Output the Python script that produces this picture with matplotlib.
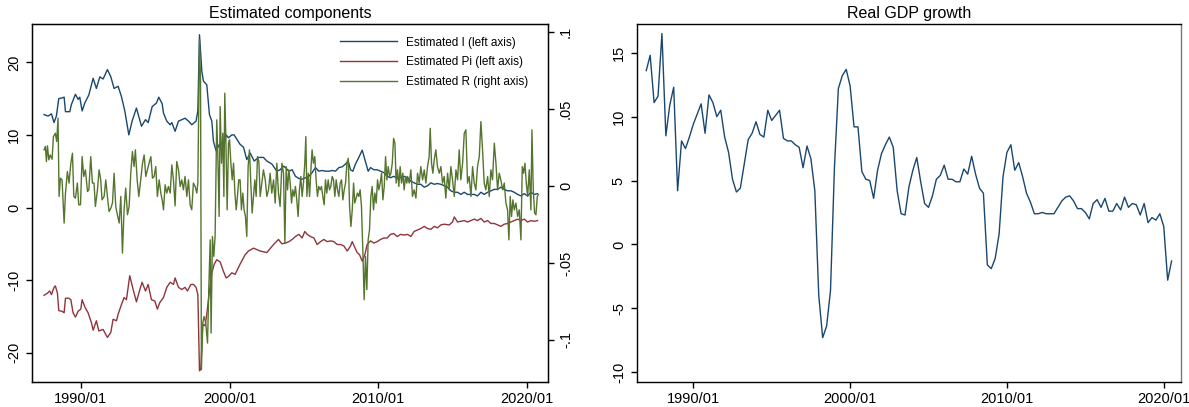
import numpy as np
import pandas as pd
import matplotlib
matplotlib.use("Agg")
import matplotlib.pyplot as plt

# Values (dates as decimal years)
I_DATES = [1987.53, 1987.80, 1988.03, 1988.20, 1988.36, 1988.52, 1988.74, 1988.88, 1988.97, 1989.26,
           1989.37, 1989.64, 1989.82, 1989.93, 1990.09, 1990.27, 1990.54, 1990.83, 1991.05, 1991.28,
           1991.50, 1991.79, 1992.02, 1992.24, 1992.51, 1992.73, 1992.96, 1993.23, 1993.45, 1993.74,
           1994.08, 1994.35, 1994.53, 1994.80, 1995.09, 1995.24, 1995.47,
           1995.56, 1995.78, 1996.01, 1996.12, 1996.34, 1996.57, 1996.79, 1997.01, 1997.24, 1997.46,
           1997.75, 1997.87, 1997.98, 1998.14, 1998.25, 1998.47, 1998.65, 1998.81, 1998.92, 1999.10,
           1999.32, 1999.55, 1999.77, 1999.93, 2000.15, 2000.31, 2000.49, 2000.71, 2000.94, 2001.16,
           2001.39, 2001.66, 2001.95, 2002.28, 2002.51, 2002.84, 2003.18, 2003.40, 2003.63,
           2003.76, 2003.99, 2004.21, 2004.43, 2004.66, 2004.88, 2005.11, 2005.33, 2005.55, 2005.78,
           2006.00, 2006.23, 2006.45, 2006.68, 2006.90, 2007.12, 2007.35, 2007.57, 2007.80, 2007.98,
           2008.13, 2008.29, 2008.47, 2008.69, 2008.92, 2009.10, 2009.32, 2009.48, 2009.70, 2009.93,
           2010.15, 2010.38, 2010.60, 2010.82, 2011.05, 2011.27, 2011.50, 2011.72,
           2011.97, 2012.19, 2012.41, 2012.64, 2012.86, 2013.09, 2013.31, 2013.54, 2013.76, 2013.98,
           2014.21, 2014.43, 2014.66, 2014.88, 2015.11, 2015.33, 2015.55, 2015.78, 2016.00, 2016.23,
           2016.45, 2016.67, 2016.90, 2017.12, 2017.35, 2017.57, 2017.80, 2018.02, 2018.24, 2018.47,
           2018.69, 2018.92, 2019.14, 2019.37, 2019.59, 2019.81, 2020.04, 2020.26, 2020.49, 2020.71]
I_VALS = [12.8, 12.6, 12.9, 11.7, 12.6, 15.0, 15.1, 15.2, 13.2, 13.2,
          14.2, 15.6, 14.9, 15.2, 13.3, 14.4, 15.5, 17.8, 16.4, 18.0,
          17.7, 19.0, 18.0, 16.4, 16.7, 15.3, 13.3, 10.0, 11.9, 13.7,
          11.2, 12.1, 11.7, 13.9, 14.4, 15.2, 14.3,
          13.0, 11.9, 11.4, 11.7, 10.5, 11.9, 12.1, 12.3, 11.9, 11.4,
          11.9, 13.3, 23.8, 18.7, 17.4, 16.9, 12.8, 11.9, 9.1, 7.8,
          8.7, 7.8, 10.0, 9.6, 10.0, 10.0, 9.4, 8.7, 8.3, 6.6,
          7.5, 6.4, 6.9, 6.9, 6.4, 6.0, 5.0, 5.2, 5.7,
          5.5, 5.0, 5.2, 4.3, 4.0, 3.9, 4.1, 4.3, 4.8, 5.5,
          5.0, 5.1, 5.0, 5.0, 5.1, 5.0, 5.5, 5.6, 6.0, 6.4,
          5.2, 5.0, 6.0, 6.9, 7.9, 6.6, 5.0, 5.5, 5.2, 5.2,
          5.0, 4.8, 4.3, 4.1, 4.3, 4.0, 4.1, 4.3,
          4.1, 3.6, 3.4, 3.2, 3.2, 2.8, 3.0, 3.4, 3.2, 3.3,
          3.2, 3.0, 2.8, 2.3, 2.1, 2.1, 1.8, 2.1, 1.8, 1.8,
          1.8, 1.6, 2.1, 1.8, 2.1, 2.3, 2.5, 2.5, 2.8, 2.5,
          2.3, 2.3, 2.1, 1.8, 1.6, 1.9, 1.6, 2.1, 1.8, 1.9]

PI_DATES = [1987.53, 1987.76, 1987.91, 1988.03, 1988.20, 1988.29, 1988.43, 1988.52, 1988.74, 1988.88,
            1988.97, 1989.19, 1989.33, 1989.48, 1989.64, 1989.82, 1990.00, 1990.09, 1990.27, 1990.49,
            1990.72, 1990.83, 1991.05, 1991.21, 1991.50, 1991.79, 1992.02, 1992.17, 1992.40, 1992.51,
            1992.73, 1992.91, 1993.07, 1993.29, 1993.52, 1993.74, 1993.97, 1994.12, 1994.35, 1994.53,
            1994.75, 1994.98, 1995.15, 1995.31,
            1995.56, 1995.78, 1996.01, 1996.23, 1996.34, 1996.57, 1996.79, 1997.01, 1997.17, 1997.40,
            1997.58, 1997.75, 1997.87, 1997.98, 1998.07, 1998.20, 1998.36, 1998.47, 1998.65, 1998.81,
            1998.97, 1999.14, 1999.37, 1999.59, 1999.77, 1999.93, 2000.15, 2000.38, 2000.71, 2001.05,
            2001.27, 2001.61, 2002.06, 2002.51, 2002.96, 2003.29, 2003.52,
            2003.76, 2003.99, 2004.21, 2004.43, 2004.66, 2004.88, 2005.06, 2005.22, 2005.44, 2005.67,
            2005.89, 2006.12, 2006.34, 2006.56, 2006.79, 2007.01, 2007.24, 2007.46, 2007.69, 2007.91,
            2008.13, 2008.25, 2008.42, 2008.58, 2008.74, 2008.92, 2009.10, 2009.25, 2009.48, 2009.70,
            2009.93, 2010.15, 2010.38, 2010.60, 2010.82, 2011.05, 2011.27, 2011.50, 2011.72,
            2011.97, 2012.19, 2012.41, 2012.64, 2012.86, 2013.09, 2013.31, 2013.54, 2013.76, 2013.98,
            2014.21, 2014.43, 2014.77, 2014.99, 2015.11, 2015.33, 2015.55, 2015.78, 2016.00, 2016.23,
            2016.45, 2016.67, 2016.90, 2017.12, 2017.35, 2017.57, 2017.80, 2018.02, 2018.24, 2018.47,
            2018.69, 2018.92, 2019.14, 2019.37, 2019.59, 2019.81, 2020.04, 2020.26, 2020.49, 2020.71]
PI_VALS = [-12.1, -11.8, -11.5, -12.0, -11.0, -10.8, -11.8, -14.2, -14.3, -14.5,
           -12.5, -12.5, -12.7, -14.5, -15.1, -14.3, -14.0, -12.7, -13.7, -14.5,
           -15.9, -16.9, -15.6, -17.0, -16.8, -17.9, -17.2, -15.4, -15.6, -14.7,
           -13.4, -12.4, -12.7, -9.4, -11.3, -13.0, -11.3, -10.3, -11.5, -10.6,
           -12.7, -12.9, -14.0, -13.1,
           -12.4, -11.0, -10.3, -10.6, -9.7, -11.0, -11.3, -11.0, -11.5, -10.6,
           -10.6, -11.0, -12.0, -22.5, -22.3, -16.1, -16.3, -14.7, -11.5, -9.0,
           -7.8, -7.2, -7.5, -8.8, -9.7, -9.5, -9.0, -9.2, -7.8, -6.5,
           -6.0, -5.6, -6.0, -6.2, -5.1, -4.4, -5.0,
           -4.9, -4.7, -4.4, -4.0, -3.7, -4.2, -3.3, -3.7, -4.0, -4.2,
           -5.1, -4.7, -4.4, -4.7, -4.6, -4.7, -5.1, -5.1, -5.3, -6.0,
           -5.3, -4.7, -5.5, -6.2, -6.5, -7.4, -6.5, -5.1, -4.6, -4.9,
           -4.7, -4.4, -4.2, -4.2, -3.7, -3.6, -4.0, -3.7, -3.8,
           -3.7, -4.0, -3.3, -3.1, -2.9, -2.6, -2.9, -3.0, -2.6, -2.8,
           -2.4, -2.3, -2.4, -2.0, -1.3, -2.0, -1.9, -1.8, -2.0, -1.8,
           -1.6, -1.8, -1.5, -2.0, -1.8, -2.2, -2.2, -2.4, -2.6, -2.3,
           -2.2, -2.0, -1.8, -1.6, -1.8, -1.6, -2.0, -1.8, -1.9, -1.8]

R_DATES = [1987.53, 1987.62, 1987.69, 1987.76, 1987.85, 1987.94, 1988.07, 1988.16, 1988.29, 1988.38,
           1988.47, 1988.54, 1988.63, 1988.74, 1988.88, 1988.97, 1989.10, 1989.21, 1989.33, 1989.44,
           1989.53, 1989.64, 1989.77, 1989.86, 1989.98, 1990.09, 1990.20, 1990.31, 1990.45, 1990.54,
           1990.67, 1990.78, 1990.89, 1990.98, 1991.12, 1991.23, 1991.34, 1991.43, 1991.57, 1991.68,
           1991.79, 1991.90, 1992.02, 1992.13, 1992.24, 1992.35, 1992.46, 1992.58, 1992.69, 1992.80,
           1992.91, 1993.02, 1993.14, 1993.25, 1993.36, 1993.47, 1993.58, 1993.67, 1993.79, 1993.90,
           1994.03, 1994.15, 1994.26, 1994.37, 1994.48, 1994.59, 1994.71, 1994.82, 1994.93, 1995.04,
           1995.15, 1995.27, 1995.38, 1995.49,
           1995.56, 1995.67, 1995.78, 1995.89, 1996.01, 1996.12, 1996.23, 1996.34, 1996.45, 1996.57,
           1996.68, 1996.79, 1996.90, 1997.01, 1997.13, 1997.24, 1997.35, 1997.46, 1997.57, 1997.69,
           1997.80, 1997.87, 1997.98, 1998.05, 1998.11, 1998.20, 1998.29, 1998.40, 1998.52, 1998.61,
           1998.70, 1998.76, 1998.85, 1998.94, 1999.03, 1999.14, 1999.21, 1999.30, 1999.37, 1999.46,
           1999.55, 1999.62, 1999.68, 1999.75, 1999.84, 1999.93, 2000.00, 2000.09, 2000.18, 2000.27,
           2000.36, 2000.45, 2000.53, 2000.62, 2000.71, 2000.80, 2000.89, 2000.98, 2001.07, 2001.16,
           2001.25, 2001.34, 2001.43, 2001.52, 2001.61, 2001.70, 2001.79, 2001.88, 2001.97, 2002.06,
           2002.17, 2002.28, 2002.40, 2002.51, 2002.62, 2002.73, 2002.84, 2002.96, 2003.07, 2003.18,
           2003.29, 2003.40, 2003.52, 2003.63,
           2003.72, 2003.81, 2003.90, 2003.99, 2004.08, 2004.17, 2004.25, 2004.34, 2004.43, 2004.52,
           2004.61, 2004.70, 2004.79, 2004.88, 2004.97, 2005.06, 2005.13, 2005.20, 2005.29, 2005.38,
           2005.47, 2005.55, 2005.64, 2005.73, 2005.82, 2005.91, 2006.00, 2006.09, 2006.18, 2006.27,
           2006.36, 2006.45, 2006.54, 2006.63, 2006.72, 2006.81, 2006.90, 2006.99, 2007.08, 2007.17,
           2007.26, 2007.35, 2007.44, 2007.53, 2007.62, 2007.71, 2007.80, 2007.89, 2007.98, 2008.07,
           2008.16, 2008.25, 2008.34, 2008.42, 2008.51, 2008.60, 2008.69, 2008.78, 2008.87, 2008.96,
           2009.05, 2009.14, 2009.23, 2009.32, 2009.41, 2009.50, 2009.59, 2009.68, 2009.77, 2009.86,
           2009.95, 2010.04, 2010.13, 2010.22, 2010.31, 2010.40, 2010.49, 2010.58, 2010.67, 2010.76,
           2010.85, 2010.94, 2011.03, 2011.12, 2011.20, 2011.29, 2011.38, 2011.47, 2011.56, 2011.65,
           2011.74, 2011.83, 2011.92,
           2011.97, 2012.08, 2012.19, 2012.30, 2012.41, 2012.53, 2012.64, 2012.75, 2012.86, 2012.98,
           2013.09, 2013.20, 2013.31, 2013.42, 2013.49, 2013.58, 2013.67, 2013.76, 2013.87, 2013.98,
           2014.10, 2014.21, 2014.32, 2014.43, 2014.54, 2014.66, 2014.77, 2014.88, 2014.99, 2015.11,
           2015.22, 2015.33, 2015.44, 2015.55, 2015.67, 2015.78, 2015.89, 2016.00, 2016.11, 2016.23,
           2016.34, 2016.45, 2016.56, 2016.67, 2016.79, 2016.90, 2017.01, 2017.12, 2017.23, 2017.35,
           2017.46, 2017.57, 2017.68, 2017.80, 2017.91, 2018.02, 2018.13, 2018.24, 2018.36, 2018.47,
           2018.58, 2018.69, 2018.78, 2018.87, 2018.96, 2019.05, 2019.14, 2019.25, 2019.37, 2019.48,
           2019.59, 2019.68, 2019.77, 2019.86, 2019.95, 2020.04, 2020.15, 2020.26, 2020.33, 2020.42,
           2020.51, 2020.60, 2020.69, 2020.76]
R_VALS = [0.0236, 0.0258, 0.0160, 0.0262, 0.0171, 0.0203, 0.0175, 0.0322, 0.0344, 0.0290,
          0.0442, -0.0067, 0.0052, 0.0041, -0.0240, -0.0045, 0.0095, 0.0020, 0.0149, 0.0214,
          -0.0067, -0.0078, 0.0020, -0.0121, -0.0121, 0.0192, 0.0063, 0.0106, -0.0035, -0.0024,
          0.0192, 0.0020, 0.0020, -0.0132, -0.0024, 0.0106, 0.0041, -0.0089, -0.0067, 0.0041,
          -0.0067, -0.0165, -0.0143, -0.0110, 0.0084, -0.0132, -0.0186, -0.0240, -0.0067, -0.0435,
          -0.0154, -0.0013, -0.0186, -0.0132, 0.0084, 0.0225, 0.0127, 0.0236, 0.0041, -0.0067,
          0.0041, 0.0149, 0.0203, 0.0063, 0.0106, 0.0149, 0.0192, 0.0052, 0.0063, 0.0127,
          -0.0067, 0.0041, -0.0045, -0.0100,
          -0.0154, 0.0009, -0.0045, -0.0002, -0.0045, 0.0138, 0.0041, -0.0128, 0.0160, 0.0106,
          -0.0002, 0.0041, -0.0024, 0.0063, -0.0067, 0.0041, -0.0121, -0.0154, 0.0020, -0.0002,
          -0.0045, 0.0020, 0.0950, 0.0691, -0.1193, -0.0890, -0.0847, -0.0890, -0.1020, -0.0652,
          -0.0349, -0.0955, -0.0327, -0.0457, -0.0327, 0.0431, 0.0214, -0.0197, 0.0517, 0.0149,
          0.0344, -0.0067, 0.0604, 0.0322, -0.0154, 0.0279, 0.0301, 0.0149, 0.0041, 0.0149,
          -0.0045, -0.0154, -0.0067, 0.0041, 0.0041, -0.0154, -0.0045, -0.0154, -0.0197, -0.0327,
          0.0127, 0.0236, 0.0020, -0.0175, -0.0067, 0.0041, -0.0067, 0.0192, 0.0160, -0.0067,
          0.0020, 0.0106, 0.0041, -0.0067, -0.0024, 0.0084, -0.0045, 0.0041, -0.0110, 0.0149,
          -0.0045, -0.0132, 0.0149, 0.0084,
          -0.0370, 0.0127, -0.0024, 0.0106, 0.0020, -0.0110, -0.0024, -0.0067, -0.0002, -0.0089,
          -0.0197, -0.0024, 0.0063, -0.0067, 0.0020, 0.0149, 0.0322, -0.0067, 0.0084, -0.0067,
          0.0106, 0.0236, 0.0149, 0.0192, 0.0041, -0.0067, -0.0002, -0.0024, -0.0002, -0.0067,
          -0.0121, 0.0041, -0.0045, 0.0041, -0.0024, -0.0002, 0.0063, 0.0041, -0.0067, 0.0041,
          -0.0024, -0.0067, 0.0020, 0.0041, -0.0089, -0.0024, 0.0020, 0.0149, 0.0181, -0.0132,
          -0.0262, -0.0154, 0.0020, -0.0110, -0.0078, -0.0045, -0.0067, -0.0024, -0.0132, -0.0413,
          -0.0738, -0.0457, -0.0673, -0.0349, -0.0284, -0.0067, -0.0002, -0.0154, -0.0045, -0.0110,
          0.0041, -0.0024, 0.0020, 0.0084, -0.0089, -0.0002, 0.0192, 0.0041, 0.0127, 0.0063,
          0.0084, 0.0149, 0.0311, 0.0279, 0.0020, 0.0106, -0.0002, 0.0127, 0.0020, 0.0084,
          -0.0024, 0.0063, 0.0020,
          0.0063, 0.0020, 0.0106, -0.0067, -0.0024, -0.0078, 0.0084, 0.0020, 0.0127, 0.0041,
          0.0106, 0.0020, 0.0127, 0.0192, 0.0376, 0.0149, 0.0084, 0.0171, 0.0236, 0.0127,
          0.0084, 0.0127, 0.0020, 0.0063, -0.0078, 0.0084, -0.0024, 0.0127, 0.0041, -0.0067,
          0.0106, 0.0041, 0.0236, 0.0041, 0.0149, 0.0344, 0.0366, 0.0020, 0.0063, -0.0067,
          0.0127, 0.0020, -0.0024, 0.0127, 0.0192, 0.0420, 0.0236, 0.0020, -0.0024, 0.0063,
          -0.0067, 0.0106, 0.0041, 0.0279, 0.0149, -0.0024, 0.0084, 0.0041, -0.0024, 0.0020,
          -0.0110, -0.0154, -0.0349, -0.0067, -0.0197, -0.0089, -0.0154, -0.0110, -0.0197, -0.0154,
          -0.0349, 0.0127, 0.0084, 0.0149, 0.0020, -0.0067, 0.0106, -0.0154, 0.0366, -0.0024,
          -0.0175, -0.0186, -0.0067, -0.0056]

# Real GDP growth, quarterly from 1987Q1
GDP_START = "1987Q1"
GDP_VALS = [13.6, 14.8, 11.1, 11.6, 16.5, 8.5, 10.9, 12.3, 4.2, 8.1,
            7.5, 8.4, 9.4, 10.2, 11.0, 8.7, 11.7, 11.1, 10.0, 10.5,
            8.4, 7.2, 5.1, 4.1, 4.4, 6.3, 8.2, 8.7, 9.6, 8.6,
            8.4, 10.5, 9.7, 10.1, 10.5, 8.3, 8.1, 8.1, 7.8, 7.6,
            6.0, 7.7, 6.7, 4.2, -4.0, -7.3, -6.4, -3.6, 6.0, 12.2,
            13.2, 13.7, 12.4, 9.2, 9.2, 5.7, 5.1, 5.0, 3.6, 5.8,
            7.1, 7.8, 8.4, 7.6, 4.2, 2.4, 2.3, 4.5, 5.8, 6.8,
            4.9, 3.2, 2.9, 3.8, 5.1, 5.4, 6.2, 5.1, 5.1, 4.9,
            4.9, 5.9, 5.5, 6.9, 5.5, 4.4, 4.0, -1.6, -1.9, -1.1,
            0.8, 5.3, 7.2, 7.8, 5.8, 6.4, 5.3, 4.0, 3.3, 2.4,
            2.4, 2.5, 2.4, 2.4, 2.4, 2.9, 3.4, 3.7, 3.8, 3.4,
            2.8, 2.8, 2.5, 2.0, 3.2, 3.5, 2.9, 3.6, 2.6, 2.6,
            3.2, 2.7, 3.7, 2.9, 3.2, 3.1, 2.3, 3.2, 1.7, 2.1,
            1.9, 2.4, 1.4, -2.8, -1.3]

X_TICKS = [1990, 2000, 2010, 2020]
X_LABELS = ["1990/01", "2000/01", "2010/01", "2020/01"]

BLUE = "#1a476f"
RED = "#90353b"
GREEN = "#55752f"

plt.rcParams["font.family"] = ["Liberation Sans", "DejaVu Sans"]

fig = plt.figure(figsize=(11.89, 4.07), dpi=100)
ax1 = fig.add_axes([32 / 1189, 25 / 407, 516 / 1189, 358 / 407])
ax2 = fig.add_axes([637 / 1189, 25 / 407, 544 / 1189, 358 / 407])


def style_axis(ax):
    ax.tick_params(direction="out", length=4, width=1, labelsize=10.5, pad=3)
    ax.tick_params(axis="y", pad=4)
    for s in ax.spines.values():
        s.set_linewidth(1)
    ax.set_xticks(X_TICKS)
    ax.set_xticklabels(X_LABELS)


# ---- Left panel: estimated components ----
ax1.plot(I_DATES, I_VALS, color=BLUE, lw=1.0, label="Estimated I (left axis)")
ax1.plot(PI_DATES, PI_VALS, color=RED, lw=1.0, label="Estimated Pi (left axis)")
ax1.set_xlim(1986.72, 2021.41)
ax1.set_ylim(-24.04, 25.28)
ax1.set_yticks([-20, -10, 0, 10, 20])
ax1.set_yticklabels(["-20", "-10", "0", "10", "20"], rotation=90, va="center")
style_axis(ax1)
ax1.set_title("Estimated components", fontsize=11.5, pad=4)

axr = ax1.twinx()
axr.plot(R_DATES, R_VALS, color=GREEN, lw=1.0, label="Estimated R (right axis)")
axr.set_ylim(-0.1273, 0.1054)
axr.set_yticks([-0.1, -0.05, 0, 0.05, 0.1])
axr.set_yticklabels(["-.1", "-.05", "0", ".05", ".1"], rotation=90, va="center")
axr.tick_params(direction="out", length=4, width=1, labelsize=10.5, pad=4)

handles = ax1.get_lines() + axr.get_lines()
axr.legend(handles, [h.get_label() for h in handles], loc="upper right",
           bbox_to_anchor=(0.962, 0.965), frameon=False, fontsize=8.5,
           handlelength=4.8, handletextpad=0.8, labelspacing=0.65,
           borderpad=0, borderaxespad=0)

# ---- Right panel: real GDP growth ----
gdp_q = pd.period_range(GDP_START, periods=len(GDP_VALS), freq="Q")
gdp_x = gdp_q.year + (gdp_q.quarter - 1) / 4.0
ax2.plot(gdp_x, GDP_VALS, color=BLUE, lw=1.0)
ax2.set_xlim(1986.41, 2021.1)
ax2.set_ylim(-10.77, 17.25)
ax2.set_yticks([-10, -5, 0, 5, 10, 15])
ax2.set_yticklabels(["-10", "-5", "0", "5", "10", "15"], rotation=90, va="center")
style_axis(ax2)
ax2.spines["right"].set_color("#777777")
ax2.set_title("Real GDP growth", fontsize=11.5, pad=4)

fig.savefig("out.png", dpi=100)
